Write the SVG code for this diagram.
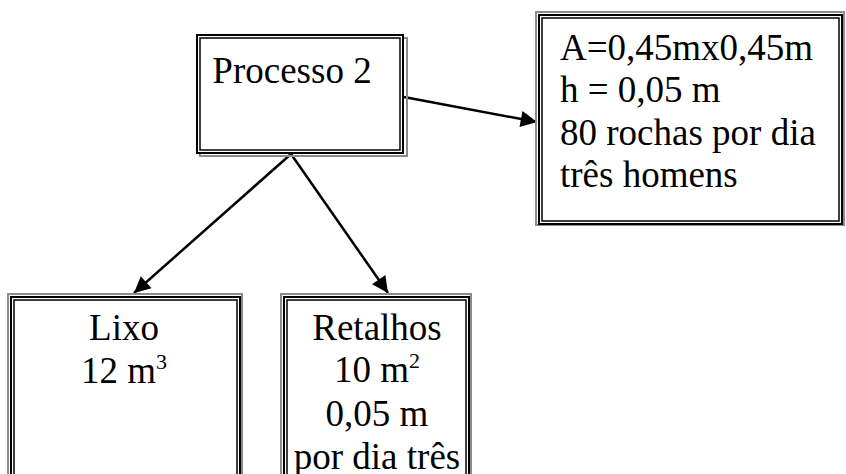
<svg xmlns="http://www.w3.org/2000/svg" width="846" height="474" viewBox="0 0 846 474">
  <style>
    .txt { font-size: 37px; fill: #000; }
    .mid { text-anchor: middle; }
    .shade { fill: none; stroke: #8c8c8c; stroke-width: 2; }
    .outer { fill: #fff; stroke: #000; stroke-width: 2; }
    .inner { fill: none; stroke: #000; stroke-width: 1.5; }
    .conn { stroke: #000; stroke-width: 2.5; fill: none; }
  </style>
  <defs>
    <marker id="arrow" viewBox="0 0 10 10" refX="10" refY="5" markerWidth="7" markerHeight="6.5" markerUnits="strokeWidth" orient="auto">
      <path d="M0,0 L10,5 L0,10 Z" fill="#000"/>
    </marker>
  </defs>
  <rect width="846" height="474" fill="#fff"/>

  <!-- connectors -->
  <g id="connectors">
    <line class="conn" x1="404" y1="97" x2="537" y2="122" marker-end="url(#arrow)"/>
    <line class="conn" x1="291" y1="154" x2="134" y2="293" marker-end="url(#arrow)"/>
    <line class="conn" x1="291" y1="154" x2="388" y2="293" marker-end="url(#arrow)"/>
  </g>

  <g font-family="Liberation Serif, Times New Roman, DejaVu Serif, serif">
    <!-- Processo 2 -->
    <g id="processo2">
      <rect class="shade" x="200" y="38" width="207" height="118"/>
      <rect class="outer" x="197" y="35" width="206" height="118"/>
      <rect class="inner" x="200" y="38" width="200" height="112"/>
      <text class="txt mid" x="292" y="83">Processo 2</text>
    </g>

    <!-- dimensions box -->
    <g id="dimensoes">
      <rect class="shade" x="536" y="12" width="308" height="213"/>
      <rect class="outer" x="539" y="15" width="303" height="209"/>
      <rect class="inner" x="542" y="18" width="297" height="203"/>
      <text class="txt" x="560" y="60">A=0,45mx0,45m</text>
      <text class="txt" x="560" y="102">h = 0,05 m</text>
      <text class="txt" x="560" y="145">80 rochas por dia</text>
      <text class="txt" x="560" y="187">três homens</text>
    </g>

    <!-- Lixo -->
    <g id="lixo">
      <rect class="shade" x="8" y="294" width="234" height="190"/>
      <rect class="outer" x="11" y="297" width="229" height="190"/>
      <rect class="inner" x="14" y="300" width="223" height="190"/>
      <text class="txt mid" x="124" y="340">Lixo</text>
      <text class="txt mid" x="124" y="383">12 m<tspan dy="-14" font-size="22">3</tspan></text>
    </g>

    <!-- Retalhos -->
    <g id="retalhos">
      <rect class="shade" x="281" y="294" width="190" height="190"/>
      <rect class="outer" x="284" y="297" width="185" height="190"/>
      <rect class="inner" x="287" y="300" width="179" height="190"/>
      <text class="txt mid" x="377" y="340">Retalhos</text>
      <text class="txt mid" x="377" y="382">10 m<tspan dy="-14" font-size="22">2</tspan></text>
      <text class="txt mid" x="377" y="426">0,05 m</text>
      <text class="txt mid" x="377" y="469">por dia três</text>
    </g>
  </g>
</svg>
